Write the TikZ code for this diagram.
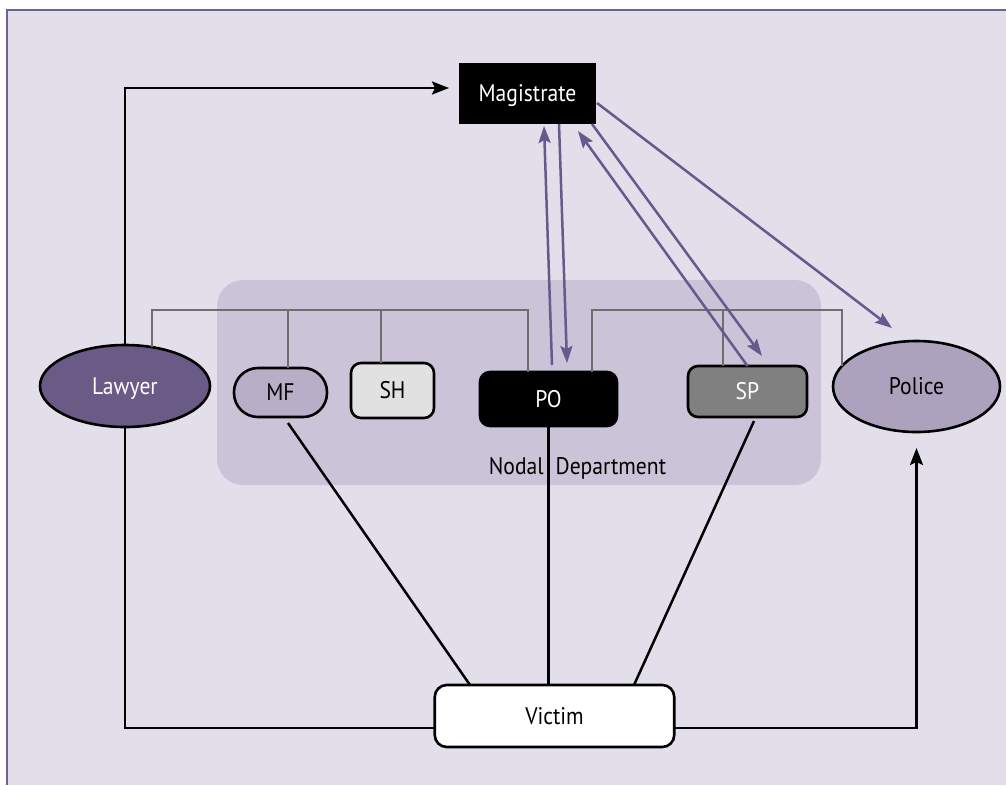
\documentclass[tikz,border=0pt]{standalone}
\usepackage{fontspec}
\setmainfont{PT Sans}[FakeStretch=0.9]
\usetikzlibrary{shapes.geometric,arrows.meta,calc}

\definecolor{backcol}{HTML}{E3DFEA}
\definecolor{framecol}{HTML}{6E6290}
\definecolor{nodalcol}{HTML}{CBC3D7}
\definecolor{lawyercol}{HTML}{695A86}
\definecolor{mfcol}{HTML}{B8AEC8}
\definecolor{shcol}{HTML}{E1E1E1}
\definecolor{spcol}{HTML}{808080}
\definecolor{policecol}{HTML}{ACA2BE}
\definecolor{ordercol}{HTML}{66598B}
\definecolor{buscol}{HTML}{6E6E6E}

\begin{document}
\begin{tikzpicture}[
x=1pt, y=-1pt,
font=\fontsize{24}{28}\selectfont,
every node/.append style={text height=16.5pt, text depth=0pt, outer sep=0pt},
actor/.style={ellipse, draw=black, line width=2.6pt, inner sep=0pt},
office/.style={rectangle, rounded corners=10pt, draw=black, line width=2.6pt, inner sep=0pt},
judge/.style={rectangle, fill=black, text=white, inner sep=0pt},
dept/.style={rectangle, rounded corners=26pt, fill=nodalcol, inner sep=0pt},
bus/.style={draw=buscol, line width=2pt},
link/.style={draw=black, line width=2.5pt},
tip/.style={-{Stealth[length=17pt, width=13pt, inset=3pt]}},
order/.style={draw=ordercol, line width=2.5pt, -{Stealth[length=17pt, width=12pt, inset=3pt]}},
]
\useasboundingbox (0,0) rectangle (1006,785);
\fill[backcol] (7,10) rectangle (1006,785);
\draw[framecol, line width=2.5pt] (7,785) -- (7,10) -- (1006,10);

\node [dept] [minimum width=604pt, minimum height=205pt] (Nodal) at (519,382.5) {};
\node [anchor=base] (NodalLbl) at (577.5,474) {Nodal\enspace Department};

\node [judge] [minimum width=137pt, minimum height=61pt] (Mag) at (527.5,93.5) {Magistrate};
\node [actor] [fill=lawyercol, text=white, minimum width=170pt, minimum height=82pt] (Law) at (125,386) {Lawyer};
\node [office] [fill=mfcol, rounded corners=24pt, minimum width=93pt, minimum height=49pt] (MF) at (280.5,392.5) {MF};
\node [office] [fill=shcol, minimum width=83pt, minimum height=55pt] (SH) at (392.5,390.5) {SH};
\node [office] [fill=black, text=white, minimum width=137pt, minimum height=54pt] (PO) at (548.5,399) {PO};
\node [office] [fill=spcol, text=white, minimum width=119pt, minimum height=51pt] (SP) at (747.5,391.5) {SP};
\node [actor] [fill=policecol, minimum width=167pt, minimum height=91pt] (Pol) at (916.5,386.5) {Police};
\node [office] [fill=white, rounded corners=12pt, minimum width=239.5pt, minimum height=62pt] (Vic) at (554.5,716) {Victim};

\draw[bus] (Law.55) |- ($(PO.north)+(-20.5,-62)$) -- ($(PO.north)+(-20.5,0)$);
\draw[bus] ($(MF.north)+(7.5,0)$) -- ++(0,-58);
\draw[bus] ($(SH.north)+(-11.5,0)$) -- ++(0,-53);
\draw[bus] ($(PO.north)+(43.5,0)$) -- ++(0,-62) -| (Pol.165);
\draw[bus] ($(SP.north)+(-24.5,0)$) -- ++(0,-56);

\draw[link, tip, shorten >=10pt] (Law.north) |- ($(Mag.west)+(0,-5.5)$);
\draw[link] (Law.south) |- ($(Vic.west)+(0,12)$);
\draw[link, tip, shorten >=16pt] ($(Vic.east)+(0,12)$) -| (Pol.south);
\draw[link] ($(MF.south)+(7.5,6)$) -- ($(Vic.north)+(-84.5,0)$);
\draw[link] (PO.south) -- (PO.south |- Vic.north);
\draw[link] ($(SP.south)+(6.5,4)$) -- ($(Vic.north)+(79.5,0)$);

\draw[order] ($(PO.north)+(3.5,-7)$) -- ($(Mag.south)+(16.5,2)$);
\draw[order] ($(Mag.south)+(31.5,0)$) -- ($(PO.north)+(18.5,-9)$);
\draw[order] (SP.north) -- ($(Mag.south east)+(-18,7)$);
\draw[order] ($(Mag.south east)+(-4,0)$) -- ($(SP.north)+(14.5,-10)$);
\draw[order] ($(Mag.east)+(1,9.5)$) -- ($(Pol.north)+(-24.5,-13)$);
\end{tikzpicture}
\end{document}
